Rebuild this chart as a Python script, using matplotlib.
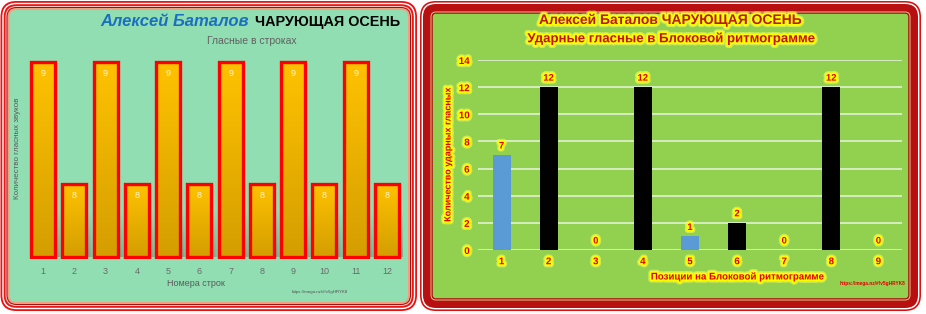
import numpy as np
import matplotlib
matplotlib.use("Agg")
import matplotlib.pyplot as plt
import matplotlib.patheffects as pe
from matplotlib.patches import FancyBboxPatch
from matplotlib.colors import to_rgb

plt.rcParams["font.family"] = ["Liberation Sans", "DejaVu Sans"]

# left chart: vowels per line
lines = list(range(1, 13))
vowels = [9, 8, 9, 8, 9, 8, 9, 8, 9, 8, 9, 8]

# right chart: stressed vowels by position
positions = list(range(1, 10))
stressed = [7, 12, 0, 12, 1, 2, 0, 12, 0]
bar_colors = ["#5B9BD5", "black", "black", "black", "#5B9BD5", "black", "black", "black", "black"]

W, H = 926, 314
fig = plt.figure(figsize=(W / 100, H / 100), dpi=100)


def px_axes(x0, y0, x1, y1, **kw):
    return fig.add_axes([x0 / W, 1 - y1 / H, (x1 - x0) / W, (y1 - y0) / H], **kw)


bg = px_axes(0, 0, W, H)
bg.set_xlim(0, W)
bg.set_ylim(H, 0)
bg.axis("off")


def frame(box, layers, radius):
    x0, y0, x1, y1 = box
    for inset, color in layers:
        r = max(radius - inset, 2)
        bg.add_patch(FancyBboxPatch((x0 + inset, y0 + inset), x1 - x0 - 2 * inset, y1 - y0 - 2 * inset,
                                    boxstyle=f"round,pad=0,rounding_size={r}",
                                    facecolor=color, edgecolor="none"))


frame((0.5, 1, 417, 311), [(0, "#F01010"), (1.8, "white"), (3.2, "#E81818"), (5.0, "#F6C8C0"),
                           (6.0, "#A01010"), (7.0, "#F0A080"), (9.0, "#92DEB3")], 16)
frame((420, 1, 921, 311), [(0, "#E01010"), (1.6, "white"), (3.0, "#B81010"), (10.5, "#E8C08A"),
                           (11.5, "#A81010"), (12.8, "#92D050")], 16)

glow = [pe.withStroke(linewidth=4.5, foreground="#FFFF60", alpha=0.55),
        pe.withStroke(linewidth=2.6, foreground="#FFFF00")]

# ---------------- left chart ----------------
base = 7.4
ppu = 122.0
ax1 = px_axes(27.4, 52, 402.6, 259)
ax1.set_facecolor("none")
bars = ax1.bar(lines, [v - base for v in vowels], bottom=base, width=0.77,
               facecolor="none", edgecolor="#FF0000", linewidth=2.4, zorder=3)
top_c = np.array(to_rgb("#FFC200"))
bot_c = np.array(to_rgb("#D49E00"))
grad = np.linspace(0, 1, 64)[:, None, None]
grad_img = top_c * (1 - grad) + bot_c * grad
for b, v in zip(bars, vowels):
    x0 = b.get_x()
    # soft shadow at the foot of the bar
    sh = np.zeros((32, 16, 4))
    sh[..., :3] = 0.25
    alpha_v = np.linspace(0, 0.45, 32)[:, None]
    alpha_h = np.linspace(1, 0, 16)[None, :]
    sh[..., 3] = alpha_v * alpha_h
    ax1.imshow(sh, extent=[x0 + b.get_width(), x0 + b.get_width() + 0.3, base, base + 0.38],
               aspect="auto", zorder=1, interpolation="bilinear")
    im = ax1.imshow(grad_img, extent=[x0, x0 + b.get_width(), base, v],
                    aspect="auto", zorder=2, interpolation="bilinear")
    im.set_clip_path(b)
    ax1.annotate(str(v), (b.get_x() + b.get_width() / 2, v), xytext=(0, -8.5),
                 textcoords="offset points", ha="center", va="center",
                 fontsize=6.5, color="#FFF4C8", zorder=4)
ax1.set_xlim(0.5, 12.5)
ax1.set_ylim(base - 2 / ppu, 9 + 10 / ppu)
ax1.set_xticks(lines)
ax1.set_xticklabels([str(i) for i in lines])
ax1.tick_params(axis="x", length=0, pad=5.5, labelsize=6.5, labelcolor="#6A6A6A")
ax1.set_yticks([])
for s in ax1.spines.values():
    s.set_visible(False)

bg.text(249, 22, "Алексей Баталов", ha="right", va="center", fontsize=12,
        fontweight="bold", fontstyle="italic", color="#1A6FC0")
bg.text(255, 22, "ЧАРУЮЩАЯ ОСЕНЬ", ha="left", va="center", fontsize=10.4,
        fontweight="bold", color="black")
bg.text(252, 41, "Гласные в строках", ha="center", va="center", fontsize=7.5, color="#606060")
bg.text(196, 283, "Номера строк", ha="center", va="center", fontsize=6.5, color="#5A5A5A")
bg.text(18, 148, "Количество гласных звуков", ha="center", va="center", rotation=90,
        fontsize=5.8, color="#5A5A5A")
bg.text(320, 292, "https://mega.nz/#!v5gHRYK8", ha="center", va="center", fontsize=3.2,
        color="#505050")

# ---------------- right chart ----------------
ax2 = px_axes(478, 60, 902, 250)
ax2.set_facecolor("none")
ax2.bar(positions, stressed, width=0.38, color=bar_colors, zorder=3)
for x, v in zip(positions, stressed):
    ax2.annotate(str(v), (x, v), xytext=(0, 6.5), textcoords="offset points",
                 ha="center", va="center", fontsize=6.8, fontweight="bold",
                 color="#E00000", path_effects=glow, zorder=4)
ax2.set_xlim(0.5, 9.5)
ax2.set_ylim(0, 14)
ax2.set_yticks(range(0, 15, 2))
ax2.set_xticks(positions)
ax2.grid(axis="y", color="#DCEFC8", linewidth=1.3, zorder=0)
ax2.set_axisbelow(True)
ax2.tick_params(axis="both", length=0, labelsize=7, labelcolor="#E00000")
ax2.tick_params(axis="x", pad=4.5)
ax2.tick_params(axis="y", pad=6)
for lab in ax2.get_xticklabels() + ax2.get_yticklabels():
    lab.set_fontweight("bold")
    lab.set_path_effects(glow)
for s in ax2.spines.values():
    s.set_visible(False)

red_title = "#B81818"
bg.text(670, 20, "Алексей Баталов ЧАРУЮЩАЯ ОСЕНЬ", ha="center", va="center", fontsize=10,
        fontweight="bold", color=red_title, path_effects=glow)
bg.text(671, 39, "Ударные гласные в Блоковой ритмограмме", ha="center", va="center",
        fontsize=9.5, fontweight="bold", color="#C81010", path_effects=glow)
bg.text(737, 276.5, "Позиции на Блоковой ритмограмме", ha="center", va="center", fontsize=7,
        fontweight="bold", color="#E00000", path_effects=glow)
bg.text(448, 155, "Количество ударных гласных", ha="center", va="center", rotation=90,
        fontsize=6.5, fontweight="bold", color="#E00000", path_effects=glow)
bg.text(873, 284, "https://mega.nz/#!v5gHRYK8", ha="center", va="center", fontsize=3.4,
        fontweight="bold", color="#E00000")

fig.savefig("out.png", dpi=100)
